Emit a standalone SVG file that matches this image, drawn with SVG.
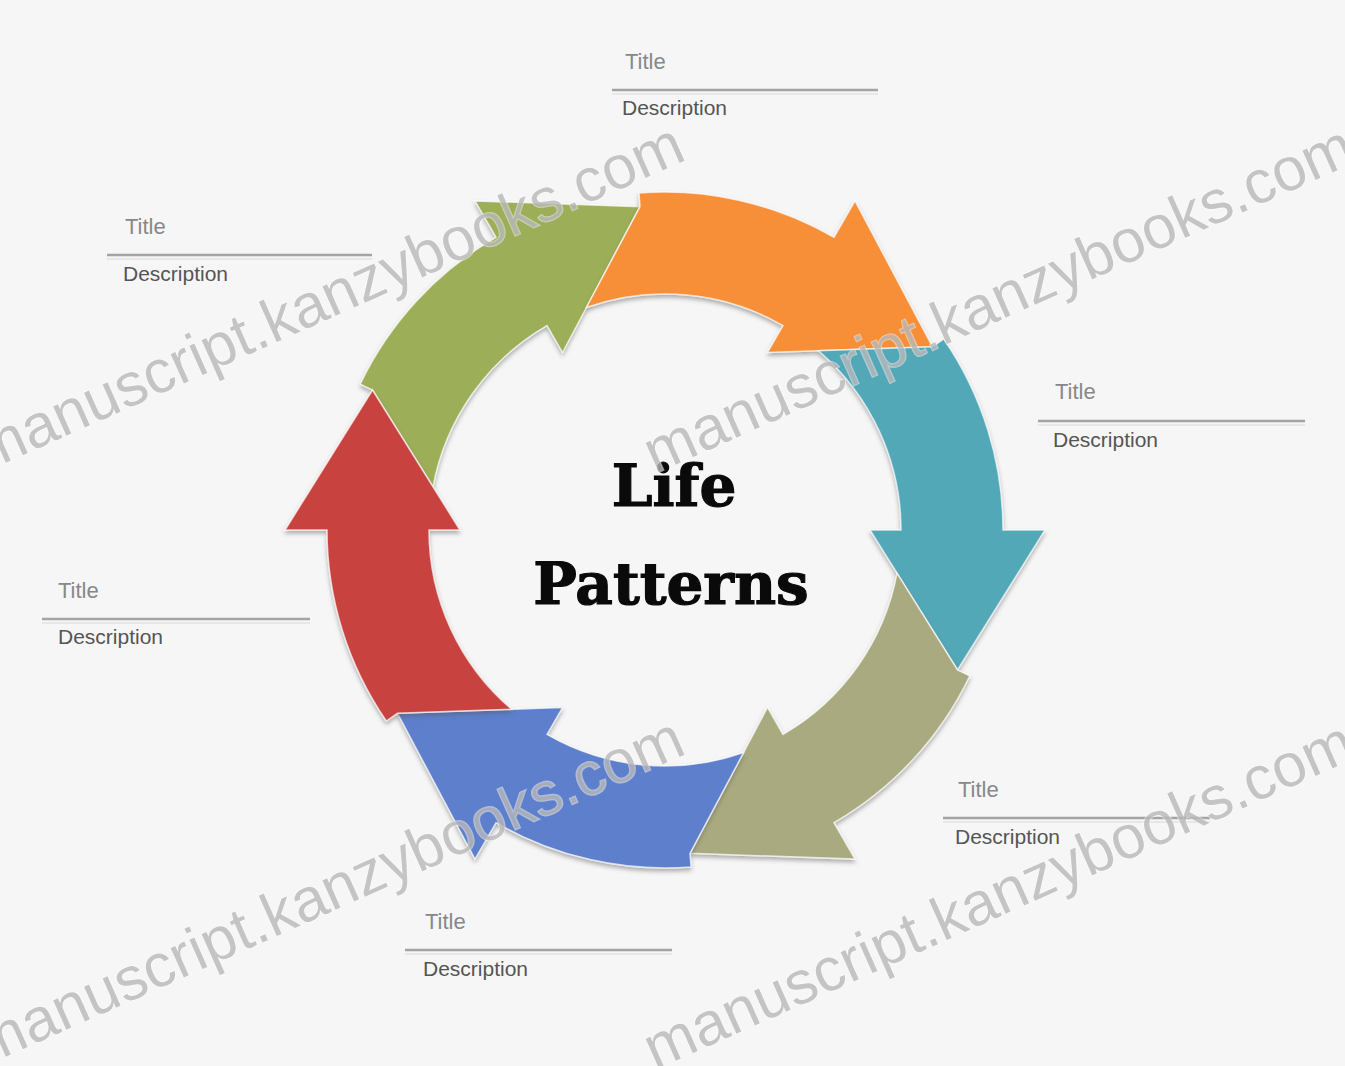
<svg xmlns="http://www.w3.org/2000/svg" xmlns:xlink="http://www.w3.org/1999/xlink" width="1345" height="1066" viewBox="0 0 1345 1066">
  <style>
    .title { font-family: "Liberation Sans", Arial, sans-serif; font-size: 22px; fill: #888888; }
    .desc { font-family: "Liberation Sans", Arial, sans-serif; font-size: 21px; fill: #555555; }
    .rule { stroke: #a4a4a4; stroke-width: 2.5; fill: none; }
    .rule2 { stroke: #e2e2e2; stroke-width: 1.5; fill: none; }
    .arrow { stroke: #ffffff; stroke-width: 1.5; stroke-opacity: 0.7; stroke-linejoin: miter; filter: url(#shade); }
    .center { font-family: "DejaVu Serif", "Liberation Serif", serif; font-weight: bold; font-size: 58px; fill: #0a0a0a; stroke: #0a0a0a; stroke-width: 1.2; text-anchor: middle; }
    .wm { font-family: "Liberation Sans", Arial, sans-serif; font-size: 61px; fill: #b8b8b8; fill-opacity: 0.8; stroke: #ffffff; stroke-width: 1.5; stroke-opacity: 0.5; paint-order: stroke; }
  </style>
  <defs>
    <filter id="shade" x="-10%" y="-10%" width="120%" height="125%">
      <feDropShadow dx="0" dy="3" stdDeviation="2" flood-color="#555555" flood-opacity="0.45"/>
    </filter>
    <text id="wm" class="wm" transform="rotate(-24)">manuscript.kanzybooks.com</text>
  </defs>

  <rect x="0" y="0" width="1345" height="1066" fill="#f6f6f6"/>

  <!-- six curved arrows arranged in a ring, each ending in a straight triangular head -->
  <g id="connectors">
    <g id="arrow-green">
      <path class="arrow" fill="#9cae58" d="M 360.2 384.1 A 338 338 0 0 1 496 237.3 L 475 200.9 L 640 206.7 L 562.5 352.5 L 547 325.6 A 236 236 0 0 0 433 486.8 L 372.5 390 Z"/>
    </g>
    <g id="arrow-orange">
      <path class="arrow" fill="#f78f38" d="M 639 193 A 338 338 0 0 1 834 237.3 L 855 200.9 L 932.5 346.7 L 767.5 352.5 L 783 325.6 A 236 236 0 0 0 586.4 307.5 L 640 206.7 Z"/>
    </g>
    <g id="arrow-teal">
      <path class="arrow" fill="#53a8b8" d="M 943.8 339 A 338 338 0 0 1 1003 530 L 1045 530 L 957.5 670 L 870 530 L 901 530 A 236 236 0 0 0 818.4 350.7 L 932.5 346.7 Z"/>
    </g>
    <g id="arrow-khaki">
      <path class="arrow" fill="#a9aa7f" d="M 969.8 675.9 A 338 338 0 0 1 834 822.7 L 855 859.1 L 690 853.3 L 767.5 707.5 L 783 734.4 A 236 236 0 0 0 897 573.2 L 957.5 670 Z"/>
    </g>
    <g id="arrow-blue">
      <path class="arrow" fill="#5d7fcc" d="M 691 867 A 338 338 0 0 1 496 822.7 L 475 859.1 L 397.5 713.3 L 562.5 707.5 L 547 734.4 A 236 236 0 0 0 743.6 752.5 L 690 853.3 Z"/>
    </g>
    <g id="arrow-red">
      <path class="arrow" fill="#c8433f" d="M 386.3 721 A 338 338 0 0 1 327 530 L 285 530 L 372.5 390 L 460 530 L 429 530 A 236 236 0 0 0 511.6 709.3 L 397.5 713.3 Z"/>
    </g>
  </g>

  <!-- centre caption -->
  <g id="center-caption">
    <text class="center" x="674" y="506">Life</text>
    <text class="center" x="671" y="604">Patterns</text>
  </g>

  <!-- title / description callouts -->
  <g id="label-top">
    <text class="title" x="625" y="69">Title</text>
    <line class="rule" x1="612" y1="90" x2="878" y2="90"/>
    <line class="rule2" x1="612" y1="94" x2="878" y2="94"/>
    <text class="desc" x="622" y="115">Description</text>
  </g>
  <g id="label-top-left">
    <text class="title" x="125" y="234">Title</text>
    <line class="rule" x1="107" y1="255" x2="372" y2="255"/>
    <line class="rule2" x1="107" y1="259" x2="372" y2="259"/>
    <text class="desc" x="123" y="281">Description</text>
  </g>
  <g id="label-right">
    <text class="title" x="1055" y="399">Title</text>
    <line class="rule" x1="1038" y1="421" x2="1305" y2="421"/>
    <line class="rule2" x1="1038" y1="425" x2="1305" y2="425"/>
    <text class="desc" x="1053" y="447">Description</text>
  </g>
  <g id="label-left">
    <text class="title" x="58" y="598">Title</text>
    <line class="rule" x1="42" y1="619" x2="310" y2="619"/>
    <line class="rule2" x1="42" y1="623" x2="310" y2="623"/>
    <text class="desc" x="58" y="644">Description</text>
  </g>
  <g id="label-bottom-right">
    <text class="title" x="958" y="797">Title</text>
    <line class="rule" x1="943" y1="818" x2="1210" y2="818"/>
    <line class="rule2" x1="943" y1="822" x2="1210" y2="822"/>
    <text class="desc" x="955" y="844">Description</text>
  </g>
  <g id="label-bottom">
    <text class="title" x="425" y="929">Title</text>
    <line class="rule" x1="405" y1="950" x2="672" y2="950"/>
    <line class="rule2" x1="405" y1="954" x2="672" y2="954"/>
    <text class="desc" x="423" y="976">Description</text>
  </g>

  <!-- diagonal watermark tiles -->
  <g id="watermark">
    <use xlink:href="#wm" transform="translate(-15 472)"/>
    <use xlink:href="#wm" transform="translate(655 474)"/>
    <use xlink:href="#wm" transform="translate(-15 1066)"/>
    <use xlink:href="#wm" transform="translate(655 1070)"/>
  </g>
</svg>
